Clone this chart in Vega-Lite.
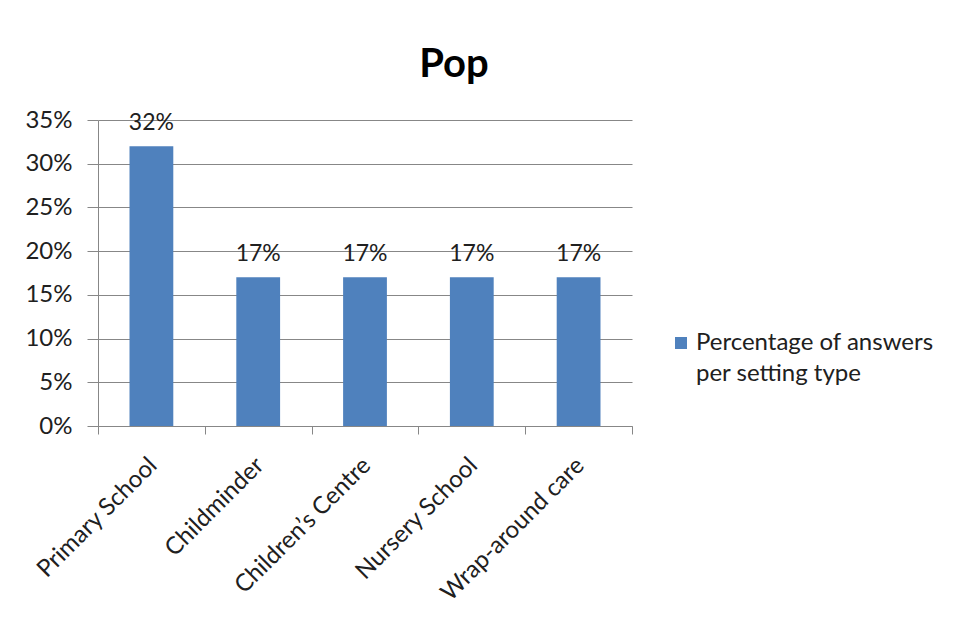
{
  "$schema": "https://vega.github.io/schema/vega-lite/v6.json",
  "autosize": "none",
  "width": 534,
  "height": 306,
  "padding": {"left": 98, "top": 120, "right": 325, "bottom": 193},
  "background": "white",
  "config": {
    "font": "Lato",
    "view": {"stroke": null},
    "style": {"guide-label": {"lineHeight": 31}},
    "axis": {
      "labelFont": "Lato",
      "labelFontSize": 24,
      "labelColor": "#202020",
      "domainColor": "#878787",
      "tickColor": "#878787",
      "gridColor": "#878787",
      "gridOpacity": 1,
      "tickOpacity": 1
    }
  },
  "title": {
    "text": "Pop",
    "fontSize": 40,
    "fontWeight": "bold",
    "font": "Lato",
    "color": "#000000",
    "anchor": "middle",
    "frame": "group",
    "dx": 89,
    "dy": 19,
    "baseline": "alphabetic",
    "offset": 10
  },
  "data": {
    "values": [
      {"setting": "Primary School", "share": 0.32, "series": "Percentage of answers per setting type"},
      {"setting": "Childminder", "share": 0.17, "series": "Percentage of answers per setting type"},
      {"setting": "Children’s Centre", "share": 0.17, "series": "Percentage of answers per setting type"},
      {"setting": "Nursery School", "share": 0.17, "series": "Percentage of answers per setting type"},
      {"setting": "Wrap-around care", "share": 0.17, "series": "Percentage of answers per setting type"}
    ]
  },
  "encoding": {
    "x": {
      "field": "setting",
      "type": "nominal",
      "sort": null,
      "title": null,
      "scale": {"paddingInner": 0, "paddingOuter": 0},
      "axis": {
        "labelAngle": -45,
        "tickBand": "extent",
        "tickSize": 8,
        "labelPadding": 19,
        "labelOffset": -7,
        "labelLimit": 300,
        "grid": false
      }
    },
    "y": {
      "field": "share",
      "type": "quantitative",
      "title": null,
      "scale": {"domain": [0, 0.35], "nice": false},
      "axis": {
        "values": [0, 0.05, 0.1, 0.15, 0.2, 0.25, 0.3, 0.35],
        "format": ".0%",
        "tickSize": 11,
        "labelPadding": 15,
        "grid": true
      }
    }
  },
  "layer": [
    {
      "mark": {"type": "bar", "width": {"band": 0.41}},
      "encoding": {
        "color": {
          "field": "series",
          "type": "nominal",
          "scale": {"range": ["#4F81BD"]},
          "legend": {
            "title": null,
            "orient": "none",
            "legendX": 571,
            "legendY": 211,
            "padding": 0,
            "symbolType": "square",
            "symbolSize": 144,
            "symbolStrokeWidth": 0,
            "labelFont": "Lato",
            "labelFontSize": 24,
            "labelColor": "#202020",
            "labelOffset": 3,
            "labelLimit": 400,
            "labelExpr": "['Percentage of answers', 'per setting type']"
          }
        }
      }
    },
    {
      "mark": {
        "type": "text",
        "baseline": "alphabetic",
        "dy": -16,
        "fontSize": 23,
        "font": "Lato",
        "color": "#202020"
      },
      "encoding": {
        "text": {"field": "share", "type": "quantitative", "format": ".0%"}
      }
    }
  ]
}
